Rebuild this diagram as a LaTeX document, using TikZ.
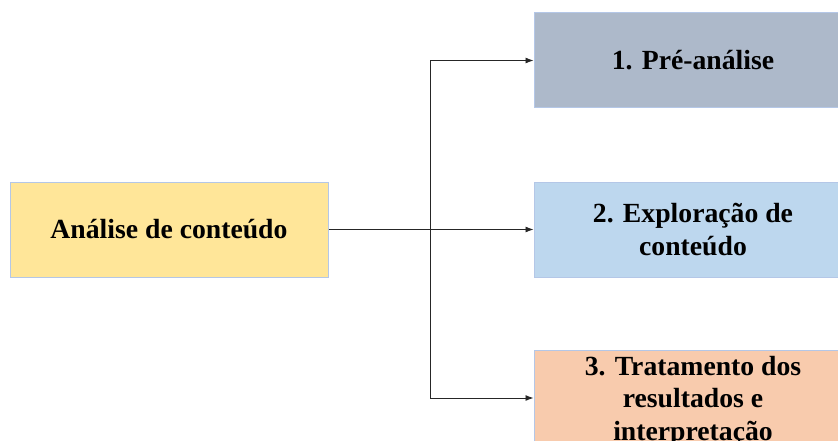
\documentclass[tikz,border=0pt]{standalone}
\usepackage{fontspec}
\setmainfont{Liberation Serif}
\usetikzlibrary{arrows.meta}
\definecolor{boxline}{HTML}{B4C7E7}
\definecolor{yel}{HTML}{FFE699}
\definecolor{grayblue}{HTML}{ADB9CA}
\definecolor{lightblue}{HTML}{BDD7EE}
\definecolor{peach}{HTML}{F8CBAD}
\begin{document}
\begin{tikzpicture}[x=1pt,y=-1pt,
  txt/.style={inner sep=0pt, align=center, font=\bfseries\fontsize{27.7}{32.5}\selectfont},
  box/.style={txt, draw=boxline, line width=1pt, minimum width=318pt, minimum height=95pt},
  arr/.style={draw=black!85, line width=0.9pt, -{Latex[length=8pt,width=6pt]}}]
\useasboundingbox (0,0) rectangle (838,441);
\clip (0,0) rectangle (838,441);
\node[box, fill=yel] (src) at (169,229.5) {Análise de conteúdo};
\node[box, fill=grayblue] (b1) at (693,60.5) {1. Pré-análise};
\node[box, fill=lightblue] (b2) at (693,229.5) {2. Exploração de\\conteúdo};
\node[box, fill=peach, minimum height=100pt] (b3) at (693,400) {};
\node[txt, anchor=north] (t3) at (693,356) {3. Tratamento dos\\resultados e\\interpretação};
\coordinate (jx) at (430,229.5);
\draw[arr] (src.east) -- (b2.west);
\draw[arr] (jx) |- ([yshift=2pt]b3.west);
\draw[arr] (jx) |- (b1.west);
\end{tikzpicture}
\end{document}
